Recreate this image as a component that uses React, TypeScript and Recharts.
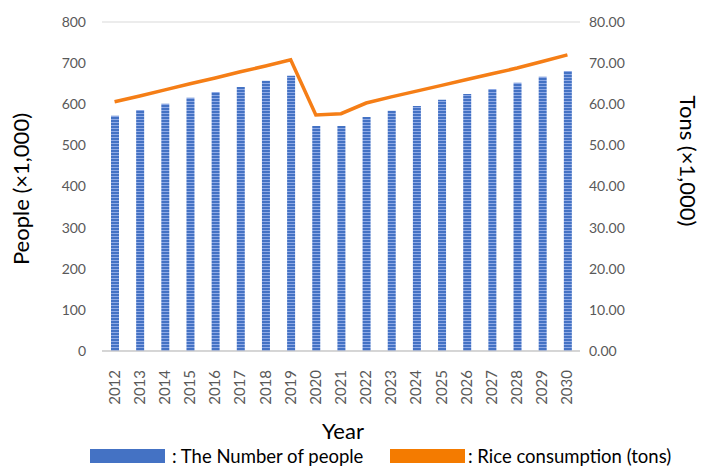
import React from "react";
import {
  ComposedChart,
  Bar,
  Line,
  XAxis,
  YAxis,
  CartesianGrid,
} from "recharts";

const years = [
  "2012", "2013", "2014", "2015", "2016", "2017", "2018", "2019", "2020", "2021",
  "2022", "2023", "2024", "2025", "2026", "2027", "2028", "2029", "2030",
];
const people = [572, 586, 601, 616, 630, 642, 657, 669, 547, 547, 569, 584, 596, 611, 625, 637, 652, 667, 681];
const rice = [60.6, 62.0, 63.5, 65.0, 66.4, 67.9, 69.3, 70.8, 57.4, 57.7, 60.3, 61.8, 63.2, 64.6, 66.0, 67.4, 68.8, 70.4, 72.0];
const leftTicks = [0, 100, 200, 300, 400, 500, 600, 700, 800];
const rightTicks = [0, 10, 20, 30, 40, 50, 60, 70, 80];

const data = years.map((year, i) => ({ year, people: people[i], rice: rice[i] }));

const FONT = "Lato, 'Open Sans', sans-serif";
const GREY = "#595959";

const YearTick = ({ x, y, payload }: any) => (
  <text
    x={x}
    y={y + 11}
    transform={`rotate(-90, ${x}, ${y + 11})`}
    textAnchor="end"
    dy={5}
    fontSize={15}
    fontFamily={FONT}
    fill={GREY}
  >
    {payload.value}
  </text>
);

export default function App() {
  return (
    <div style={{ position: "absolute", left: 0, top: 0, width: 702, height: 468, background: "#fff", overflow: "hidden" }}>
      <ComposedChart
        width={702}
        height={468}
        data={data}
        margin={{ top: 22, right: 0, bottom: 0, left: 0 }}
        barSize={8}
      >
        <defs>
          <pattern id="stripes" width="4" height="3" patternUnits="userSpaceOnUse">
            <rect width="4" height="3" fill="#4472C4" />
            <rect y="2" width="4" height="1" fill="#8FAAE6" />
          </pattern>
        </defs>
        <CartesianGrid vertical={false} stroke="#d9d9d9" />
        <XAxis
          dataKey="year"
          height={117}
          interval={0}
          tickLine={false}
          axisLine={{ stroke: "#bfbfbf" }}
          tick={<YearTick />}
        />
        <YAxis
          yAxisId="left"
          width={102}
          domain={[0, 800]}
          ticks={leftTicks}
          tickLine={false}
          axisLine={false}
          tickSize={0}
          tickMargin={16}
          tick={{ fontSize: 14, fontFamily: FONT, fill: GREY }}
        />
        <YAxis
          yAxisId="right"
          orientation="right"
          width={122}
          domain={[0, 80]}
          ticks={rightTicks}
          tickLine={false}
          axisLine={false}
          tickSize={0}
          tickMargin={9}
          tickFormatter={(v: number) => v.toFixed(2)}
          tick={{ fontSize: 14, fontFamily: FONT, fill: GREY, textAnchor: "start" }}
        />
        <Bar yAxisId="left" dataKey="people" fill="url(#stripes)" isAnimationActive={false} />
        <Line
          yAxisId="right"
          dataKey="rice"
          type="linear"
          stroke="#F57E16"
          strokeWidth={3.5}
          dot={false}
          isAnimationActive={false}
        />
      </ComposedChart>

      <div
        style={{
          position: "absolute",
          left: 20,
          top: 189,
          transform: "translate(-50%, -50%) rotate(-90deg)",
          fontFamily: FONT,
          fontSize: 22,
          color: "#000",
          whiteSpace: "nowrap",
        }}
      >
        People (×1,000)
      </div>
      <div
        style={{
          position: "absolute",
          left: 688,
          top: 161,
          transform: "translate(-50%, -50%) rotate(90deg)",
          fontFamily: FONT,
          fontSize: 22,
          color: "#000",
          whiteSpace: "nowrap",
        }}
      >
        Tons (×1,000)
      </div>
      <div
        style={{
          position: "absolute",
          left: 343,
          top: 430,
          transform: "translate(-50%, -50%)",
          fontFamily: FONT,
          fontSize: 22,
          color: "#000",
        }}
      >
        Year
      </div>
      <div
        style={{
          position: "absolute",
          left: 90,
          top: 446,
          height: 20,
          display: "flex",
          alignItems: "center",
          fontFamily: FONT,
          fontSize: 18.5,
          lineHeight: "20px",
          color: "#000",
          whiteSpace: "nowrap",
        }}
      >
        <span style={{ display: "inline-block", width: 75, height: 14, background: "#4472C4", marginRight: 7 }} />
        <span style={{ width: 218 }}>: The Number of people</span>
        <span style={{ display: "inline-block", width: 75, height: 14, background: "#F47B00", marginRight: 3 }} />
        <span>: Rice consumption (tons)</span>
      </div>
    </div>
  );
}
